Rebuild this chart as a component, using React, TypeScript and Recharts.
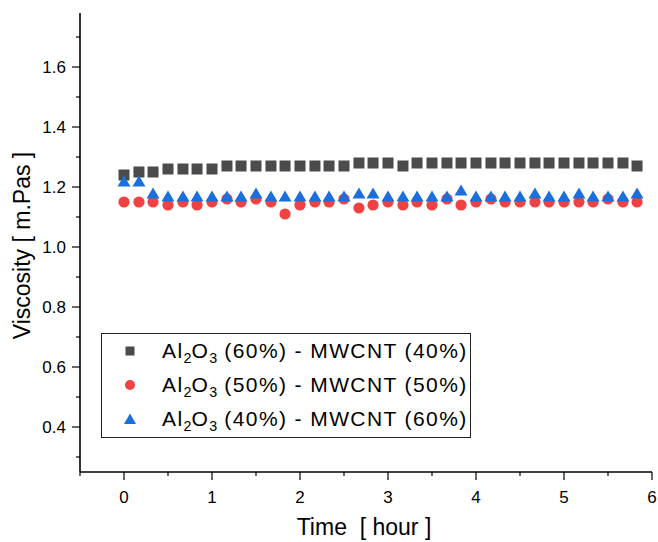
import React from 'react';
import { ScatterChart, Scatter, XAxis, YAxis, Legend } from 'recharts';

// time in hours, one reading every 10 minutes
const timeHours = [
  0, 0.17, 0.33, 0.5, 0.67, 0.83, 1, 1.17, 1.33, 1.5, 1.67, 1.83,
  2, 2.17, 2.33, 2.5, 2.67, 2.83, 3, 3.17, 3.33, 3.5, 3.67, 3.83,
  4, 4.17, 4.33, 4.5, 4.67, 4.83, 5, 5.17, 5.33, 5.5, 5.67, 5.83,
];

const al60cnt40 = [
  1.24, 1.25, 1.25, 1.26, 1.26, 1.26, 1.26, 1.27, 1.27, 1.27, 1.27, 1.27,
  1.27, 1.27, 1.27, 1.27, 1.28, 1.28, 1.28, 1.27, 1.28, 1.28, 1.28, 1.28,
  1.28, 1.28, 1.28, 1.28, 1.28, 1.28, 1.28, 1.28, 1.28, 1.28, 1.28, 1.27,
];

const al50cnt50 = [
  1.15, 1.15, 1.15, 1.14, 1.15, 1.14, 1.15, 1.16, 1.15, 1.16, 1.15, 1.11,
  1.14, 1.15, 1.15, 1.16, 1.13, 1.14, 1.15, 1.14, 1.15, 1.14, 1.16, 1.14,
  1.15, 1.16, 1.15, 1.15, 1.15, 1.15, 1.15, 1.15, 1.15, 1.16, 1.15, 1.15,
];

const al40cnt60 = [
  1.22, 1.22, 1.18, 1.17, 1.17, 1.17, 1.17, 1.17, 1.17, 1.18, 1.17, 1.17,
  1.17, 1.17, 1.17, 1.17, 1.18, 1.18, 1.17, 1.17, 1.17, 1.17, 1.17, 1.19,
  1.17, 1.17, 1.17, 1.17, 1.18, 1.17, 1.17, 1.18, 1.17, 1.17, 1.17, 1.18,
];

const xTicks = [-0.5, 0, 0.5, 1, 1.5, 2, 2.5, 3, 3.5, 4, 4.5, 5, 5.5, 6];
const yTicks = [0.3, 0.4, 0.5, 0.6, 0.7, 0.8, 0.9, 1.0, 1.1, 1.2, 1.3, 1.4, 1.5, 1.6, 1.7];
const yMajor = [0.4, 0.6, 0.8, 1.0, 1.2, 1.4, 1.6];

const GRAY = '#4b4b4b';
const RED = '#f04242';
const BLUE = '#1a6fdc';
const FONT = '"Liberation Sans", Arial, sans-serif';

const toPoints = (vals: number[]) => vals.map((v, i) => ({ x: timeHours[i], y: v }));

const SquareDot = (p: any) => <rect x={p.cx - 5.5} y={p.cy - 5.5} width={11} height={11} fill={GRAY} />;
const CircleDot = (p: any) => <circle cx={p.cx} cy={p.cy} r={5.6} fill={RED} />;
const TriangleDot = (p: any) => (
  <polygon points={`${p.cx},${p.cy - 5.5} ${p.cx + 6.5},${p.cy + 5.5} ${p.cx - 6.5},${p.cy + 5.5}`} fill={BLUE} />
);

const XTick = ({ x, y, payload }: any) => {
  const major = Number.isInteger(payload.value);
  return (
    <g>
      <line x1={x} y1={y} x2={x} y2={y + (major ? 8 : 4)} stroke="#000" strokeWidth={1.2} />
      {major && (
        <text x={x} y={y + 31} textAnchor="middle" fontSize={17} fontFamily={FONT} fill="#000">
          {payload.value}
        </text>
      )}
    </g>
  );
};

const YTick = ({ x, y, payload }: any) => {
  const major = yMajor.some((m) => Math.abs(m - payload.value) < 1e-6);
  return (
    <g>
      <line x1={x} y1={y} x2={x - (major ? 8 : 4)} y2={y} stroke="#000" strokeWidth={1.2} />
      {major && (
        <text x={x - 14} y={y + 6} textAnchor="end" fontSize={17} fontFamily={FONT} fill="#000">
          {payload.value.toFixed(1)}
        </text>
      )}
    </g>
  );
};

const legendRows = [
  { a: '60%', b: '40%', color: GRAY, kind: 'square' },
  { a: '50%', b: '50%', color: RED, kind: 'circle' },
  { a: '40%', b: '60%', color: BLUE, kind: 'triangle' },
];

const subStyle = { fontSize: '0.68em', verticalAlign: '-0.32em', letterSpacing: 0 };

const LegendBox = () => (
  <div
    style={{
      boxSizing: 'border-box',
      width: 370,
      height: 105,
      border: '1px solid #222',
      background: '#fff',
      fontFamily: FONT,
      fontSize: 21,
      color: '#000',
    }}
  >
    {legendRows.map((r) => (
      <div key={r.a} style={{ height: 34, position: 'relative' }}>
        <svg width={14} height={14} style={{ position: 'absolute', left: 21, top: 10 }}>
          {r.kind === 'square' && <rect x={2.5} y={2.5} width={9} height={9} fill={r.color} />}
          {r.kind === 'circle' && <circle cx={7} cy={7} r={5} fill={r.color} />}
          {r.kind === 'triangle' && <polygon points="7,1.5 13,12 1,12" fill={r.color} />}
        </svg>
        <span
          style={{
            position: 'absolute',
            left: 60,
            top: 0,
            whiteSpace: 'nowrap',
            lineHeight: '34px',
            letterSpacing: 1.4,
          }}
        >
          Al<sub style={subStyle}>2</sub>O<sub style={subStyle}>3</sub> ({r.a}) - MWCNT ({r.b})
        </span>
      </div>
    ))}
  </div>
);

export default function App() {
  return (
    <div style={{ position: 'absolute', left: 0, top: 0, width: 658, height: 542, background: '#fff' }}>
      <ScatterChart width={658} height={542} margin={{ top: 13, right: 6, bottom: 0, left: 0 }}>
        <XAxis
          type="number"
          dataKey="x"
          domain={[-0.5, 6]}
          ticks={xTicks}
          interval={0}
          height={70}
          tickSize={0}
          tickMargin={0}
          tick={<XTick />}
          allowDataOverflow
          axisLine={{ stroke: '#000', strokeWidth: 1.6 }}
          label={{
            content: ({ viewBox }: any) => (
              <text
                x={viewBox.x + viewBox.width / 2 - 2}
                y={viewBox.y + 63}
                textAnchor="middle"
                fontSize={23}
                fontFamily={FONT}
                fill="#000"
                style={{ whiteSpace: 'pre' }}
              >
                {'Time  [ hour ]'}
              </text>
            ),
          }}
        />
        <YAxis
          type="number"
          dataKey="y"
          domain={[0.25, 1.78]}
          ticks={yTicks}
          interval={0}
          width={80}
          tickSize={0}
          tickMargin={0}
          tick={<YTick />}
          allowDataOverflow
          axisLine={{ stroke: '#000', strokeWidth: 1.6 }}
          label={{
            content: ({ viewBox }: any) => {
              const cx = viewBox.x + 22;
              const cy = viewBox.y + viewBox.height / 2 + 3;
              return (
                <text
                  x={cx}
                  y={cy}
                  transform={`rotate(-90 ${cx} ${cy})`}
                  textAnchor="middle"
                  dominantBaseline="central"
                  fontSize={23}
                  fontFamily={FONT}
                  fill="#000"
                >
                  Viscosity [ m.Pas ]
                </text>
              );
            },
          }}
        />
        <Legend
          layout="vertical"
          align="center"
          verticalAlign="middle"
          wrapperStyle={{ left: 101, top: 333, width: 370, height: 105 }}
          content={() => <LegendBox />}
        />
        <Scatter name="sq" data={toPoints(al60cnt40)} shape={SquareDot} isAnimationActive={false} />
        <Scatter name="ci" data={toPoints(al50cnt50)} shape={CircleDot} isAnimationActive={false} />
        <Scatter name="tr" data={toPoints(al40cnt60)} shape={TriangleDot} isAnimationActive={false} />
      </ScatterChart>
    </div>
  );
}
